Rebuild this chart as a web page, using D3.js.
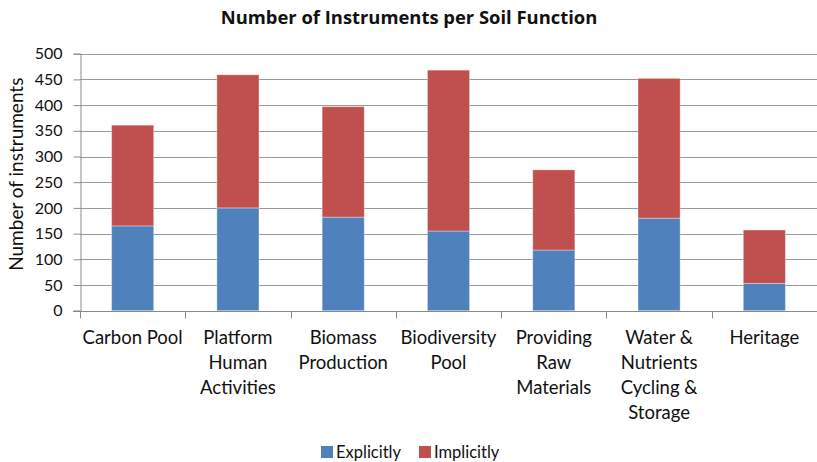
<!DOCTYPE html>
<html><head><meta charset="utf-8">
<script src="https://cdn.jsdelivr.net/npm/d3@7"></script>
<style>body{margin:0;background:#fff;} svg{display:block;font-family:Lato,"Open Sans",sans-serif;}</style>
</head><body>
<svg id="chart" width="817" height="462"></svg>
<script>
const categories = [["Carbon Pool"],["Platform","Human","Activities"],["Biomass","Production"],["Biodiversity","Pool"],["Providing","Raw","Materials"],["Water &","Nutrients","Cycling &","Storage"],["Heritage"]];
const explicitly = [165, 200, 182, 155, 118, 180, 53];
const implicitly = [196, 259, 215, 313, 156, 272, 104];
const seriesNames = ["Explicitly", "Implicitly"];
const colors = ["#4F81BD", "#C0504D"];
const yTicks = [0,50,100,150,200,250,300,350,400,450,500];

const svg = d3.select("#chart");
const m = {left:80, right:0, top:53.7, bottom:151.3};
const W = 817, H = 462;
const keys = categories.map((c,i)=>i);
const x = d3.scaleBand().domain(keys).range([m.left, W - m.right]).paddingInner(0.6).paddingOuter(0.3);
const xb = d3.scaleBand().domain(keys).range([m.left, W - m.right]);
const y = d3.scaleLinear().domain([0,500]).range([H - m.bottom, m.top]);

// gridlines
svg.append("g").selectAll("line").data(yTicks.filter(d=>d>0)).join("line")
  .attr("x1", m.left).attr("x2", W - m.right)
  .attr("y1", d=>Math.round(y(d))+0.5).attr("y2", d=>Math.round(y(d))+0.5)
  .attr("stroke", "#9a9a9a").attr("stroke-width", 1);

// stacks
const rows = keys.map(i=>({i, Explicitly: explicitly[i], Implicitly: implicitly[i]}));
const stack = d3.stack().keys(seriesNames)(rows);
svg.append("g").selectAll("g").data(stack).join("g")
  .attr("fill", (d,k)=>colors[k])
  .selectAll("rect").data(d=>d).join("rect")
  .attr("x", d=>x(d.data.i)).attr("width", x.bandwidth())
  .attr("y", d=>y(d[1])).attr("height", d=>y(d[0]) - y(d[1]))
  .attr("stroke", "rgba(255,255,255,0.35)").attr("stroke-width", 1);

// y axis
const yAxis = svg.append("g").attr("transform", `translate(${m.left+0.5},0)`)
  .call(d3.axisLeft(y).tickValues(yTicks).tickSize(7).tickPadding(11));
yAxis.select(".domain").attr("stroke", "#8a8a8a");
yAxis.selectAll(".tick line").attr("stroke", "#8a8a8a");
yAxis.selectAll(".tick text").attr("font-size", 16).attr("fill", "#111").attr("font-family", "Lato");

// x axis
const x0 = Math.round(y(0))+0.5;
svg.append("line").attr("x1", m.left-7).attr("x2", W).attr("y1", x0).attr("y2", x0).attr("stroke", "#8a8a8a");
svg.append("g").selectAll("line").data(keys).join("line")
  .attr("x1", d=>Math.round(xb(d))+0.5).attr("x2", d=>Math.round(xb(d))+0.5)
  .attr("y1", x0).attr("y2", x0+7).attr("stroke", "#8a8a8a");

// category labels
const lab = svg.append("g").selectAll("text").data(keys).join("text")
  .attr("x", d=>xb(d) + xb.bandwidth()/2).attr("y", x0 + 32)
  .attr("text-anchor", "middle").attr("font-size", 18.5).attr("fill", "#111");
lab.selectAll("tspan").data(d=>categories[d]).join("tspan")
  .attr("x", function(){return d3.select(this.parentNode).attr("x");})
  .attr("dy", (d,j)=>j===0?0:25).text(d=>d);

// title
svg.append("text").attr("x", 409).attr("y", 24).attr("text-anchor", "middle")
  .attr("font-family", "'Open Sans'")
  .attr("font-size", 18.4).attr("font-weight", "bold").attr("fill", "#111")
  .text("Number of Instruments per Soil Function");

// y axis title
svg.append("text").attr("transform", `translate(23,${(y(0)+y(500))/2 - 8}) rotate(-90)`)
  .attr("text-anchor", "middle").attr("font-size", 19).attr("fill", "#111")
  .text("Number of instruments");

// legend
const leg = svg.append("g");
const legX = [321, 419];
seriesNames.forEach((n,k)=>{
  leg.append("rect").attr("x", legX[k]).attr("y", 446).attr("width", 12).attr("height", 12).attr("fill", colors[k]);
  leg.append("text").attr("x", legX[k]+15).attr("y", 457.5).attr("font-size", 16.5).attr("fill", "#111").text(n);
});
</script>
</body></html>
